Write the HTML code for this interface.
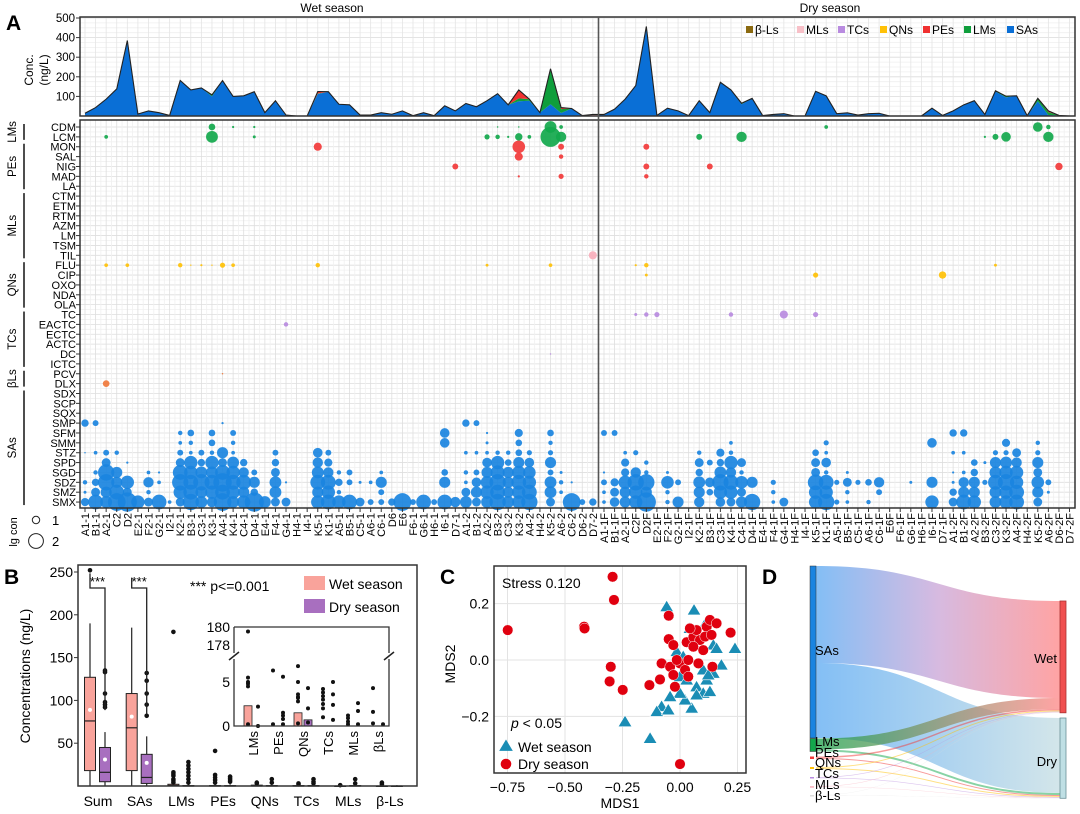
<!DOCTYPE html>
<html><head><meta charset="utf-8">
<style>
html,body{margin:0;padding:0;background:#fff;}
svg{display:block;font-family:"Liberation Sans",Arial,sans-serif;}
</style></head>
<body>
<svg id="fig" width="1080" height="814" viewBox="0 0 1080 814" xmlns="http://www.w3.org/2000/svg">
<defs>
<linearGradient id="gWet" x1="0" x2="1" y1="0" y2="0"><stop offset="0" stop-color="#5aa9f2"/><stop offset="0.5" stop-color="#c9a3d6"/><stop offset="1" stop-color="#ff8585"/></linearGradient>
<linearGradient id="gDry" x1="0" x2="1" y1="0" y2="0"><stop offset="0" stop-color="#5aa9f2"/><stop offset="1" stop-color="#c4dde3"/></linearGradient>
<linearGradient id="gLmW" x1="0" x2="1"><stop offset="0" stop-color="#1aa04a"/><stop offset="1" stop-color="#ff8585"/></linearGradient>
</defs>
</svg>
<script>
// ---------- DATA ----------
const wetSites=["A1-1","B1-1","A2-1","C2","D2","E2-1","F2-1","G2-1","I2-1","K2-1","B3-1","C3-1","K3-1","A4-1","K4-1","C4-1","D4-1","E4-1","F4-1","G4-1","H4-1","I4-1","K5-1","K1-1","A5-1","B5-1","C5-1","A6-1","C6-1","D6","E6","F6-1","G6-1","H6-1","I6-1","D7-1","A1-2","B1-2","A2-2","B3-2","C3-2","K3-2","A4-2","H4-2","K5-2","A6-2","C6-2","D6-2","D7-2"];
const drySites=["A1-1F","B1-1F","A2-1F","C2F","D2F","E2-1F","F2-1F","G2-1F","I2-1F","K2-1F","B3-1F","C3-1F","K4-1F","C4-1F","D4-1F","E4-1F","F4-1F","G4-1F","H4-1F","I4-1F","K5-1F","K1-1F","A5-1F","B5-1F","C5-1F","A6-1F","C6-1F","E6F","F6-1F","G6-1F","H6-1F","I6-1F","D7-1F","A1-2F","B1-2F","A2-2F","B3-2F","C3-2F","K3-2F","A4-2F","H4-2F","K5-2F","A6-2F","D6-2F","D7-2F"];
const compounds=["CDM","LCM","MON","SAL","NIG","MAD","LA","CTM","ETM","RTM","AZM","LM","TSM","TIL","FLU","CIP","OXO","NDA","OLA","TC","EACTC","ECTC","ACTC","DC","ICTC","PCV","DLX","SDX","SCP","SQX","SMP","SFM","SMM","STZ","SPD","SGD","SDZ","SMZ","SMX"];
const groupNames=["LMs","PEs","MLs","QNs","TCs","βLs","SAs"];
const groupStart=[0,2,7,14,19,25,27];
const groupEnd=[1,6,13,18,24,26,38];
// area series (ng/L), wet 0-48 then dry 49-93
const areaSAs=[14,43,86,138,385,10,26,17,3,181,133,143,100,181,100,103,124,17,78,5,0,0,112,124,60,57,5,5,17,9,26,2,17,2,52,26,64,47,78,114,57,75,78,17,60,15,38,2,0,
 8,35,86,155,457,3,40,26,2,78,17,172,133,60,90,2,8,12,0,0,126,103,12,16,5,12,14,0,0,0,0,40,3,26,57,78,8,125,95,103,2,75,5,3,0];
const areaLMs=[0,0,0,0,0,0,0,0,0,0,0,0,8,0,0,0,0,0,0,0,0,0,3,0,0,0,0,0,0,0,0,0,0,0,0,0,0,0,0,0,0,15,8,0,175,20,0,0,0,
 0,0,0,0,0,0,0,0,0,0,0,0,0,5,0,0,0,0,0,0,0,0,0,0,0,0,0,0,0,0,0,0,0,0,0,0,0,4,6,0,0,15,15,0,0];
const areaPEs=[0,0,0,0,0,0,0,0,0,0,0,0,0,0,0,0,0,0,0,0,0,0,10,0,0,0,0,0,0,0,0,0,0,0,0,0,0,0,0,0,0,43,0,0,6,8,0,0,0,
 0,0,0,0,0,0,0,0,0,0,0,0,0,0,0,0,0,0,0,0,0,0,0,0,0,0,0,0,0,0,0,0,0,0,0,0,0,0,0,0,0,0,6,0,0];
const areaMLs=[0,0,0,0,0,0,0,0,0,0,0,0,0,0,0,0,0,0,0,0,0,0,0,0,0,0,0,0,0,0,0,0,0,0,0,0,0,0,0,0,0,0,0,0,0,0,0,0,8,
 0,0,0,0,0,0,0,0,0,0,0,0,0,0,0,0,0,0,0,0,0,0,0,0,0,0,0,0,0,0,0,0,0,0,0,0,0,0,0,0,0,0,0,0,0];
const yTicksA=[100,200,300,400,500];
// bubbles: [compound, column, lg con]
const bubbles=[
["CDM",12,0.9],["CDM",14,0.3],["CDM",16,0.3],["CDM",39,0.2],["CDM",41,0.2],["CDM",44,1.6],["CDM",45,0.5],["CDM",70,0.5],["CDM",90,1.3],["CDM",91,0.6],
["LCM",2,0.5],["LCM",12,1.6],["LCM",16,0.4],["LCM",38,0.7],["LCM",39,0.6],["LCM",40,0.3],["LCM",41,1.0],["LCM",42,0.5],["LCM",44,2.7],["LCM",45,1.4],["LCM",58,0.8],["LCM",62,1.4],["LCM",85,0.3],["LCM",86,0.8],["LCM",87,1.3],["LCM",91,1.4],
["MON",22,1.1],["MON",41,1.7],["MON",45,0.8],["MON",53,0.8],["SAL",41,1.1],["SAL",45,0.6],
["NIG",35,0.8],["NIG",53,0.8],["NIG",59,0.8],["NIG",92,1.0],["MAD",41,0.3],["MAD",45,0.7],["MAD",53,0.6],
["TIL",48,1.1],
["FLU",2,0.5],["FLU",4,0.5],["FLU",9,0.6],["FLU",10,0.2],["FLU",11,0.3],["FLU",12,0.2],["FLU",13,0.7],["FLU",14,0.5],["FLU",22,0.6],["FLU",38,0.4],["FLU",44,0.5],["FLU",52,0.3],["FLU",53,0.6],["FLU",86,0.4],
["CIP",53,0.4],["CIP",69,0.7],["CIP",81,1.0],
["TC",52,0.4],["TC",53,0.6],["TC",54,0.7],["TC",61,0.6],["TC",66,1.1],["TC",69,0.7],["EACTC",19,0.6],["DC",44,0.2],
["PCV",13,0.2],["DLX",2,0.9],
["SMP",0,1.0],["SMP",1,0.8],["SMP",13,0.3],["SMP",36,1.0],["SMP",37,0.8],
["SFM",9,0.6],["SFM",10,0.9],["SFM",12,0.9],["SFM",14,0.8],["SFM",34,1.3],["SFM",38,0.3],["SFM",41,1.1],["SFM",44,0.9],["SFM",49,0.8],["SFM",50,0.8],["SFM",82,1.0],["SFM",83,1.0],
["SMM",9,0.5],["SMM",10,0.6],["SMM",12,0.9],["SMM",14,0.6],["SMM",34,1.3],["SMM",38,0.4],["SMM",41,0.9],["SMM",44,0.6],["SMM",61,0.5],["SMM",70,0.7],["SMM",80,1.3],["SMM",87,1.1],["SMM",90,0.6],
["STZ",0,0.2],["STZ",1,0.5],["STZ",2,0.8],["STZ",3,0.6],["STZ",9,0.8],["STZ",10,0.5],["STZ",11,0.8],["STZ",12,0.6],["STZ",13,1.5],["STZ",14,0.5],["STZ",18,0.8],["STZ",22,1.3],["STZ",23,0.8],["STZ",36,0.5],["STZ",37,0.5],["STZ",38,0.5],["STZ",39,0.6],["STZ",40,0.6],["STZ",41,0.9],["STZ",42,0.7],["STZ",44,0.7],
["STZ",51,0.5],["STZ",52,0.7],["STZ",58,0.6],["STZ",60,1.1],["STZ",61,0.6],["STZ",69,0.9],["STZ",70,0.5],["STZ",82,0.5],["STZ",83,0.5],["STZ",86,0.7],["STZ",87,0.7],["STZ",88,1.2],["STZ",90,0.7],
["SPD",2,1.2],["SPD",4,0.3],["SPD",9,1.2],["SPD",10,1.8],["SPD",11,1.0],["SPD",12,1.8],["SPD",13,1.2],["SPD",14,1.6],["SPD",15,1.0],["SPD",18,1.0],["SPD",22,1.4],["SPD",23,1.1],["SPD",38,1.3],["SPD",39,1.8],["SPD",40,0.9],["SPD",41,1.5],["SPD",42,1.3],["SPD",44,1.5],
["SPD",51,1.1],["SPD",53,0.6],["SPD",58,1.2],["SPD",59,0.8],["SPD",60,1.0],["SPD",61,1.8],["SPD",62,1.2],["SPD",69,1.2],["SPD",70,1.3],["SPD",84,0.9],["SPD",85,0.4],["SPD",86,1.5],["SPD",87,1.6],["SPD",88,1.4],["SPD",90,1.5],
["SGD",1,0.6],["SGD",2,2.2],["SGD",3,1.5],["SGD",6,0.5],["SGD",7,0.3],["SGD",9,2.0],["SGD",10,1.8],["SGD",11,1.6],["SGD",12,1.6],["SGD",13,2.0],["SGD",14,1.8],["SGD",15,1.4],["SGD",16,0.8],["SGD",18,1.2],["SGD",22,1.6],["SGD",23,1.4],["SGD",24,0.6],["SGD",25,0.8],["SGD",28,0.5],["SGD",34,0.9],["SGD",36,0.6],["SGD",37,0.8],["SGD",38,1.5],["SGD",39,1.9],["SGD",40,1.5],["SGD",41,1.8],["SGD",42,1.7],["SGD",44,0.8],["SGD",45,0.4],
["SGD",49,0.3],["SGD",51,1.1],["SGD",52,1.4],["SGD",53,0.6],["SGD",55,0.4],["SGD",58,1.0],["SGD",60,1.6],["SGD",61,1.4],["SGD",62,0.6],["SGD",69,1.2],["SGD",70,0.6],["SGD",72,0.4],["SGD",82,0.3],["SGD",83,0.5],["SGD",84,1.0],["SGD",86,1.6],["SGD",87,1.8],["SGD",88,1.8],["SGD",90,1.2],
["SDZ",0,0.6],["SDZ",1,1.0],["SDZ",2,2.2],["SDZ",3,1.5],["SDZ",4,1.8],["SDZ",6,1.4],["SDZ",7,0.5],["SDZ",9,2.2],["SDZ",10,2.0],["SDZ",11,2.2],["SDZ",12,2.0],["SDZ",13,2.5],["SDZ",14,2.0],["SDZ",15,2.0],["SDZ",16,1.5],["SDZ",18,1.6],["SDZ",19,0.3],["SDZ",22,2.0],["SDZ",23,2.0],["SDZ",24,1.0],["SDZ",25,0.8],["SDZ",26,0.4],["SDZ",27,0.5],["SDZ",28,1.5],["SDZ",34,1.5],["SDZ",36,0.5],["SDZ",37,1.3],["SDZ",38,1.7],["SDZ",39,2.2],["SDZ",40,1.5],["SDZ",41,2.0],["SDZ",42,1.8],["SDZ",44,1.6],["SDZ",45,0.6],["SDZ",46,0.3],
["SDZ",49,0.8],["SDZ",50,1.1],["SDZ",51,1.8],["SDZ",52,2.2],["SDZ",53,2.2],["SDZ",55,1.7],["SDZ",56,0.8],["SDZ",58,1.6],["SDZ",59,1.3],["SDZ",60,2.2],["SDZ",61,2.0],["SDZ",62,1.7],["SDZ",63,1.5],["SDZ",65,0.7],["SDZ",69,2.1],["SDZ",70,2.0],["SDZ",71,0.7],["SDZ",72,1.2],["SDZ",73,0.7],["SDZ",74,0.9],["SDZ",75,1.4],["SDZ",78,0.4],["SDZ",80,1.5],["SDZ",82,0.4],["SDZ",83,1.4],["SDZ",84,1.5],["SDZ",85,0.7],["SDZ",86,2.0],["SDZ",87,2.2],["SDZ",88,1.8],["SDZ",90,1.7],["SDZ",91,0.8],
["SMZ",0,0.4],["SMZ",1,1.2],["SMZ",2,1.5],["SMZ",3,2.0],["SMZ",4,1.2],["SMZ",6,0.6],["SMZ",9,1.8],["SMZ",10,2.0],["SMZ",11,1.6],["SMZ",12,1.8],["SMZ",13,2.0],["SMZ",14,1.8],["SMZ",15,1.5],["SMZ",16,1.0],["SMZ",18,1.6],["SMZ",22,1.5],["SMZ",23,1.8],["SMZ",24,0.6],["SMZ",28,0.8],["SMZ",36,1.2],["SMZ",37,1.5],["SMZ",38,1.8],["SMZ",39,2.0],["SMZ",40,1.5],["SMZ",41,1.8],["SMZ",42,2.0],["SMZ",44,1.6],["SMZ",45,0.5],
["SMZ",49,0.5],["SMZ",50,1.2],["SMZ",51,1.5],["SMZ",52,1.8],["SMZ",53,1.5],["SMZ",55,0.6],["SMZ",58,1.5],["SMZ",59,0.9],["SMZ",60,1.8],["SMZ",61,1.8],["SMZ",62,1.2],["SMZ",65,0.6],["SMZ",69,1.8],["SMZ",70,1.8],["SMZ",72,0.6],["SMZ",75,0.8],["SMZ",82,1.0],["SMZ",83,1.5],["SMZ",84,1.5],["SMZ",86,1.6],["SMZ",87,1.8],["SMZ",88,2.0],["SMZ",90,1.5],["SMZ",91,0.4],
["SMX",0,1.1],["SMX",1,2.0],["SMX",2,1.6],["SMX",3,2.4],["SMX",4,2.6],["SMX",5,1.8],["SMX",6,1.2],["SMX",7,2.0],["SMX",8,0.5],["SMX",9,1.2],["SMX",10,2.2],["SMX",11,1.6],["SMX",12,1.4],["SMX",13,2.4],["SMX",14,1.6],["SMX",15,1.8],["SMX",16,2.6],["SMX",17,1.6],["SMX",18,1.2],["SMX",19,1.2],["SMX",22,1.8],["SMX",23,2.0],["SMX",24,1.8],["SMX",25,2.0],["SMX",26,1.2],["SMX",27,0.8],["SMX",28,0.8],["SMX",29,1.0],["SMX",30,2.4],["SMX",31,0.8],["SMX",32,2.0],["SMX",33,0.8],["SMX",34,2.0],["SMX",35,1.4],["SMX",36,1.6],["SMX",37,1.2],["SMX",38,1.6],["SMX",39,2.2],["SMX",40,1.6],["SMX",41,1.8],["SMX",42,2.2],["SMX",44,1.2],["SMX",46,2.4],["SMX",47,0.8],["SMX",48,1.0],
["SMX",49,0.5],["SMX",50,1.3],["SMX",51,1.5],["SMX",52,1.8],["SMX",53,2.6],["SMX",55,0.6],["SMX",56,1.5],["SMX",58,1.4],["SMX",60,1.3],["SMX",61,1.2],["SMX",62,1.5],["SMX",63,2.2],["SMX",65,0.5],["SMX",66,1.2],["SMX",69,1.8],["SMX",70,2.2],["SMX",71,0.7],["SMX",72,0.5],["SMX",74,0.6],["SMX",80,1.8],["SMX",82,1.2],["SMX",83,2.0],["SMX",84,1.8],["SMX",86,1.6],["SMX",87,1.8],["SMX",88,2.0],["SMX",90,1.2]
];
// Panel B box stats [min,q1,median,q3,max,mean]
const boxCats=["Sum","SAs","LMs","PEs","QNs","TCs","MLs","β-Ls"];
const wetStats=[[0,18,76,127,190,89],[0,18,68,108,185,81],[0,0,0.5,2,4,2],[0,0,0,0.5,2,1],[0,0,0,1,3,1],[0,0,0,0.5,2,1],[0,0,0,0,1,0.3],[0,0,0,0,1,0.3]];
const dryStats=[[0,5,16,45,63,31],[0,3,10,37,58,27],[0,0,0,0.5,2,1],[0,0,0,0.5,2,1],[0,0,0,0.5,2,0.5],[0,0,0,0.5,2,1],[0,0,0,0.5,2,0.5],[0,0,0,0,1,0.2]];
const wetOut=[[252],[],[180,16,14,12,8,6,4],[41,13,10,7,4],[4,3],[3,2],[1],[4,2]];
const dryOut=[[92,95,98,108,133,135],[82,95,108,123,132],[28,24,20,16,12,8,4],[11,9,7,5],[8,4],[8,5,3],[8,3],[]];
const yTicksB=[50,100,150,200,250];
// inset
const insetCats=["LMs","PEs","QNs","TCs","MLs","βLs"];
const insetWetMean=[2.3,0,1.5,0,0,0];
const insetDryMean=[0,0,0.7,0,0,0];
const insetWetPts=[[179.5,5.5,5,4.8,4.5,0.2],[6.3,0.2],[6.8,5,3.6,3.3,3.2,2.8,0.3],[4.2,3.8,3.4,3,2.5,2,1],[1.2,0.9,0.5,0.2],[4.3,1.6,0.3]];
const insetDryPts=[[2.2,0],[5.6,1.5,1.2,0.8,0.2],[4.3,2,0.4],[5,3.6,2.4,0.7],[2.6,1.7,0.2],[0.2]];
// Panel C NMDS
const wetX=[-0.058,0.061,0.116,0.043,0.145,0.239,0.180,0.145,0.116,0.072,0.101,0.130,0.051,0.022,0,-0.043,-0.080,-0.101,-0.051,-0.239,-0.130,0.072,0.159,-0.014,0.014,0,0.029,0.101,0.123];
const wetY=[0.189,0.177,0.136,0.112,0.053,0.041,-0.018,-0.047,-0.071,-0.095,-0.118,-0.112,-0.171,-0.142,-0.118,-0.130,-0.165,-0.183,-0.177,-0.219,-0.278,-0.124,0.041,0.030,0.012,-0.059,-0.071,-0.035,-0.053];
const dryX=[-0.749,-0.293,-0.287,-0.417,-0.415,-0.301,-0.306,-0.249,-0.133,-0.087,-0.049,-0.049,-0.029,0.0,-0.080,-0.043,-0.029,-0.022,0,0.022,0.029,0.036,0.058,0.072,0.087,0.101,0.116,0.130,0.109,0.080,0.141,0.159,0.137,0.220,0.036,-0.014,0.058,0.043];
const dryY=[0.106,0.295,0.213,0.118,0.112,-0.024,-0.076,-0.106,-0.089,-0.069,0.157,0.074,0.053,-0.369,-0.012,-0.024,-0.053,-0.095,-0.012,-0.035,0.063,0.0,0.081,0.106,0.071,0.035,0.118,0.142,0.083,-0.012,-0.024,0.130,0.089,0.097,-0.059,0.0,0.047,0.112];
const xTicksC=[-0.75,-0.5,-0.25,0,0.25];
const yTicksC=[-0.2,0,0.2];
// Panel D sankey
const sankeySrc=["SAs","LMs","PEs","QNs","TCs","MLs","β-Ls"];
const sankeyWet=[97,11,1.5,1,0.6,0.4,0.3];
const sankeyDry=[75,2,1,1,0.6,0.4,0.3];

// ---------- HELPERS ----------
const NS='http://www.w3.org/2000/svg';
const svg=document.getElementById('fig');
function mk(tag,attrs,parent){const e=document.createElementNS(NS,tag);for(const k in attrs)e.setAttribute(k,attrs[k]);(parent||svg).appendChild(e);return e;}
function txt(s,attrs,name){const e=mk('text',attrs);e.textContent=s;


return e;}
const groupColor={"LMs":"#12a84c","PEs":"#f23a3a","MLs":"#f8aebb","QNs":"#ffc107","TCs":"#b98be0","βLs":"#f07a3c","SAs":"#1a84e0"};
function rowGroup(k){for(let g=0;g<groupNames.length;g++){if(k>=groupStart[g]&&k<=groupEnd[g])return groupNames[g];}return "SAs";}
function colX(c){return c<49?85+c*10.58:604+(c-49)*10.58;}
function rowY(k){return 127+k*9.87;}
const nCols=wetSites.length+drySites.length;

// ---------- PANEL A : AREA ----------
function yA(v){return 116-v*0.196;}
txt('A',{x:6,y:30,'font-size':21,'font-weight':'bold'},'panel-a-label');
txt('Wet season',{x:332,y:12,'font-size':12,'text-anchor':'middle'},'wet-season-title');
txt('Dry season',{x:830,y:12,'font-size':12,'text-anchor':'middle'},'dry-season-title');
// grid
for(let v=25;v<=500;v+=25){const l=mk('line',{x1:80,x2:1075,y1:yA(v),y2:yA(v),stroke:v%100==0?'#dcdcdc':'#efefef','stroke-width':0.8});

}
for(let c=0;c<nCols;c++){const l=mk('line',{x1:colX(c),x2:colX(c),y1:17,y2:116,stroke:'#e4e4e4','stroke-width':0.8});

}
// stacked areas
const layers=[["SAs",areaSAs,"#0a6fd6"],["LMs",areaLMs,"#0f9e3c"],["PEs",areaPEs,"#f03030"],["MLs",areaMLs,"#f8b8c0"]];
let base=new Array(nCols).fill(0);
const tops=[];
layers.forEach(([nm,arr,col])=>{
 const top=base.map((b,i)=>b+arr[i]);
 let d='M'+colX(0)+','+yA(base[0]);
 for(let i=0;i<nCols;i++)d+=' L'+colX(i)+','+yA(top[i]);
 for(let i=nCols-1;i>=0;i--)d+=' L'+colX(i)+','+yA(base[i]);
 const p=mk('path',{d:d+'Z',fill:col,stroke:'none'});
 
 
 base=top;
});
{let d='';for(let i=0;i<nCols;i++)d+=(i?' L':'M')+colX(i)+','+yA(base[i]);
const p=mk('path',{d:d,fill:'none',stroke:'#222','stroke-width':1.1});

}
{const r=mk('rect',{x:80,y:17,width:995,height:99,fill:'none',stroke:'#333','stroke-width':1.5});

}
yTicksA.forEach(v=>{txt(String(v),{x:75,y:yA(v)+4,'font-size':11.5,'text-anchor':'end'},'area-y-tick-label');
const t=mk('line',{x1:76,x2:80,y1:yA(v),y2:yA(v),stroke:'#333'});

});
txt('Conc.',{x:0,y:0,'font-size':12,'text-anchor':'middle',transform:'translate(33,70) rotate(-90)'},'area-y-title');
txt('(ng/L)',{x:0,y:0,'font-size':12,'text-anchor':'middle',transform:'translate(48,70) rotate(-90)'},'area-y-unit');
// legend
const legA=[["β-Ls","#8b6a10",746],["MLs","#f8c0c8",797],["TCs","#b98be0",838],["QNs","#ffc107",880],["PEs","#f03030",923],["LMs","#0f9e3c",964],["SAs","#0a6fd6",1007]];
legA.forEach(([n,c,x])=>{const r=mk('rect',{x:x,y:26,width:7,height:7,fill:c});


txt(n,{x:x+9,y:34,'font-size':12},'legend-entry-'+n.toLowerCase());});

// ---------- PANEL A : BUBBLES ----------
for(let k=0;k<compounds.length;k++){for(const off of [0,4.93]){const y=rowY(k)+off;if(y>508)continue;const l=mk('line',{x1:80,x2:1075,y1:y,y2:y,stroke:off?'#f0f0f0':'#dedede','stroke-width':0.8});

}}
for(let c=0;c<nCols;c++){for(const off of [0,5.29]){const x=colX(c)+off;if(x>1075)continue;const l=mk('line',{x1:x,x2:x,y1:120,y2:508,stroke:off?'#f0f0f0':'#dedede','stroke-width':0.8});

}}
bubbles.forEach(([cmp,col,v])=>{const k=compounds.indexOf(cmp);const g=rowGroup(k);
const c=mk('circle',{cx:colX(col),cy:rowY(k),r:3.7*v,fill:groupColor[g],'fill-opacity':0.92});

});
{const r=mk('rect',{x:80,y:120,width:995,height:388,fill:'none',stroke:'#333','stroke-width':1.5});

}
{const l=mk('line',{x1:598.5,x2:598.5,y1:17,y2:508,stroke:'#555','stroke-width':1.6});

}
compounds.forEach((n,k)=>{txt(n,{x:76,y:rowY(k)+4,'font-size':11,'text-anchor':'end',transform:`translate(0,0)`},'row-label-'+n.toLowerCase());
const t=mk('line',{x1:76,x2:80,y1:rowY(k),y2:rowY(k),stroke:'#333'});

});
groupNames.forEach((g,i)=>{const y1=rowY(groupStart[i])-3,y2=rowY(groupEnd[i])+3;
const l=mk('line',{x1:24,x2:24,y1:y1,y2:y2,stroke:'#222','stroke-width':1.6});


txt(g,{x:0,y:0,'font-size':11.5,'text-anchor':'middle',transform:`translate(16,${(y1+y2)/2}) rotate(-90)`},'group-label-'+g.toLowerCase());});
const allSites=wetSites.concat(drySites);
allSites.forEach((s,c)=>{const x=colX(c);
const t=mk('line',{x1:x,x2:x,y1:508,y2:512,stroke:'#333'});


txt(s,{x:0,y:0,'font-size':11,'text-anchor':'end',transform:`translate(${x+4},513) rotate(-90)`},'site-label');});
// size legend
txt('lg con',{x:0,y:0,'font-size':11,'text-anchor':'middle',transform:'translate(17,532) rotate(-90)'},'size-legend-title');
[[1,520],[2,541]].forEach(([v,y])=>{const c=mk('circle',{cx:36,cy:y,r:3.7*v,fill:'none',stroke:'#222','stroke-width':1});


txt(String(v),{x:52,y:y+5,'font-size':13},'size-legend-label');});

// ---------- PANEL B ----------
function yB(v){return 786-v*0.856;}
txt('B',{x:4,y:584,'font-size':21,'font-weight':'bold'},'panel-b-label');
const bx0=78,bx1=417;
function catX(i){return 98+i*41.7;}
boxCats.forEach((n,i)=>{
 [[wetStats[i],wetOut[i],-8,'#f9a39b','#f7b0a8'],[dryStats[i],dryOut[i],7,'#a86fbf','#b57fcb']].forEach(([s,outs,off,fill])=>{
  const cx=catX(i)+off,w=11;
  const wl=mk('line',{x1:cx,x2:cx,y1:yB(s[0]),y2:yB(s[4]),stroke:'#222','stroke-width':1.2});
  
  
  const b=mk('rect',{x:cx-w/2,y:yB(s[3]),width:w,height:Math.max(0.5,yB(s[1])-yB(s[3])),fill:fill,stroke:'#222','stroke-width':1});
  
  
  const m=mk('line',{x1:cx-w/2,x2:cx+w/2,y1:yB(s[2]),y2:yB(s[2]),stroke:'#222','stroke-width':1.2});
  
  
  if(s[3]>10){const mc=mk('circle',{cx:cx,cy:yB(s[5]),r:2,fill:'#fff'});
  
  }
  outs.forEach(v=>{const o=mk('circle',{cx:cx,cy:yB(v),r:2.3,fill:'#111'});
  
  });
 });
 txt(n,{x:catX(i),y:806,'font-size':14,'text-anchor':'middle'},'x-label-'+n.toLowerCase());
});
[0,1].forEach(i=>{const a=catX(i)-8,b=catX(i)+7;
const p=mk('path',{d:`M${a},${yB(wetStats[i][4])-50} V${yB(250)+16} H${b} V${yB(dryStats[i][4])-22}`,fill:'none',stroke:'#222','stroke-width':1.3});


txt('***',{x:(a+b)/2,y:yB(250)+14,'font-size':13,'text-anchor':'middle'},'significance-stars');});
{const r=mk('rect',{x:bx0,y:565,width:bx1-bx0,height:221,fill:'none',stroke:'#333','stroke-width':1.5});

}
yTicksB.forEach(v=>{txt(String(v),{x:73,y:yB(v)+5,'font-size':14,'text-anchor':'end'},'b-y-tick-label');
const t=mk('line',{x1:74,x2:78,y1:yB(v),y2:yB(v),stroke:'#333'});

});
txt('Concentrations (ng/L)',{x:0,y:0,'font-size':14,'text-anchor':'middle',transform:'translate(30,676) rotate(-90)'},'b-y-title');
txt('*** p<=0.001',{x:190,y:591,'font-size':14},'significance-note');
{const r=mk('rect',{x:304,y:576,width:21,height:14,fill:'#f9a39b'});

}
txt('Wet season',{x:329,y:589,'font-size':14},'legend-wet-season');
{const r=mk('rect',{x:304,y:599,width:21,height:14,fill:'#a86fbf'});

}
txt('Dry season',{x:329,y:612,'font-size':14},'legend-dry-season');
// inset
function yI(v){return v>100?645-(v-178)*9:726-v*8.8;}
function insX(i){return 253+i*25;}
insetCats.forEach((n,i)=>{
 [[insetWetMean[i],insetWetPts[i],-5,'#f9a39b'],[insetDryMean[i],insetDryPts[i],5,'#a86fbf']].forEach(([m,pts,off,fill])=>{
  const cx=insX(i)+off;
  if(m>0){const b=mk('rect',{x:cx-4,y:yI(m),width:8,height:726-yI(m),fill:fill,stroke:'#222','stroke-width':0.8});
  
  }
  pts.forEach(v=>{const c=mk('circle',{cx:cx,cy:yI(v),r:2,fill:'#111'});
  
  });
 });
 txt(n,{x:0,y:0,'font-size':13,'text-anchor':'end',transform:`translate(${insX(i)+5},731) rotate(-90)`},'inset-x-label');
});
{const p=mk('path',{d:'M234,627 H389 V653 M389,659 V726 H234 V659 M234,653 V627',fill:'none',stroke:'#333','stroke-width':1.3});

}
[[234],[389]].forEach(([x])=>{const b=mk('path',{d:`M${x-5},660 L${x+5},652`,stroke:'#222','stroke-width':1.5});

});
[[180,'180'],[178,'178'],[5,'5'],[0,'0']].forEach(([v,s])=>{txt(s,{x:230,y:yI(v)+5,'font-size':14,'text-anchor':'end'},'inset-y-tick-label');});

// ---------- PANEL C ----------
function xC(v){return 680+v*230;}
function yC(v){return 660-v*282;}
txt('C',{x:440,y:584,'font-size':21,'font-weight':'bold'},'panel-c-label');
xTicksC.forEach(v=>{const l=mk('line',{x1:xC(v),x2:xC(v),y1:566,y2:773,stroke:'#e3e3e3','stroke-width':1});


txt(v.toFixed(2).replace('-','−'),{x:xC(v),y:792,'font-size':14,'text-anchor':'middle'},'c-x-tick-label');});
yTicksC.forEach(v=>{const l=mk('line',{x1:494,x2:746,y1:yC(v),y2:yC(v),stroke:'#e3e3e3','stroke-width':1});


txt(v.toFixed(1).replace('-','−'),{x:489,y:yC(v)+5,'font-size':14,'text-anchor':'end'},'c-y-tick-label');});
function tri(x,y,s){return `M${x},${y-s} L${x+s*1.05},${y+s*0.75} L${x-s*1.05},${y+s*0.75}Z`;}
wetX.forEach((v,i)=>{const p=mk('path',{d:tri(xC(v),yC(wetY[i]),6.5),fill:'#1a8db5',stroke:'#fff','stroke-width':0.6});

});
dryX.forEach((v,i)=>{const c=mk('circle',{cx:xC(v),cy:yC(dryY[i]),r:5.3,fill:'#e0000f',stroke:'#fff','stroke-width':0.5});

});
{const r=mk('rect',{x:494,y:566,width:252,height:207,fill:'none',stroke:'#333','stroke-width':1.5});

}
txt('Stress 0.120',{x:502,y:588,'font-size':14},'stress-label');
{const t=txt('',{x:511,y:728,'font-size':14},'p-value-label');t.innerHTML='<tspan font-style="italic">p</tspan> &lt; 0.05';}
{const p=mk('path',{d:tri(506,746,6.5),fill:'#1a8db5'});

}
txt('Wet season',{x:518,y:752,'font-size':14},'c-legend-wet');
{const c=mk('circle',{cx:506,cy:764,r:5.3,fill:'#e0000f'});

}
txt('Dry season',{x:518,y:769,'font-size':14},'c-legend-dry');
txt('MDS1',{x:620,y:808,'font-size':14,'text-anchor':'middle'},'c-x-title');
txt('MDS2',{x:0,y:0,'font-size':14,'text-anchor':'middle',transform:'translate(455,664) rotate(-90)'},'c-y-title');

// ---------- PANEL D ----------
txt('D',{x:762,y:584,'font-size':21,'font-weight':'bold'},'panel-d-label');
const srcCols=["#1a84e0","#12a84c","#f23a3a","#ffc107","#b98be0","#f8aebb","#ddd"];
const flowW={"SAs":'url(#gWet)'};
let ly=566;const srcPos=[];
sankeySrc.forEach((n,i)=>{const h=sankeyWet[i]+sankeyDry[i];srcPos.push([ly,h]);ly+=h+(i==0?0.5:(i==1?4:8));if(i==1)ly+=1;});
let wy=601,dy=718;
sankeySrc.forEach((n,i)=>{
 const [sy,h]=srcPos[i];const x0=816,x1=1060,xm=(x0+x1)/2;
 const hw=sankeyWet[i],hd=sankeyDry[i];
 const pw=mk('path',{d:`M${x0},${sy} C${xm},${sy} ${xm},${wy} ${x1},${wy} L${x1},${wy+hw} C${xm},${wy+hw} ${xm},${sy+hw} ${x0},${sy+hw}Z`,fill:i==0?'url(#gWet)':(i==1?'url(#gLmW)':srcCols[i]),'fill-opacity':i<2?0.75:0.5});
 
 
 wy+=hw;
 const s2=sy+hw;
 const pd=mk('path',{d:`M${x0},${s2} C${xm},${s2} ${xm},${dy} ${x1},${dy} L${x1},${dy+hd} C${xm},${dy+hd} ${xm},${s2+hd} ${x0},${s2+hd}Z`,fill:i==0?'url(#gDry)':srcCols[i],'fill-opacity':i==0?0.75:0.5});
 
 
 dy+=hd;
});
sankeySrc.forEach((n,i)=>{const [sy,h]=srcPos[i];
 const r=mk('rect',{x:810,y:sy,width:i<2?6:4,height:Math.max(h,1.5),fill:srcCols[i],stroke:i<2?'#333':'none','stroke-width':0.5});
 
 
 const ty=i==0?sy+h/2-3:sy+h/2+4;
 txt(n,{x:815,y:i==0?655:[0,746,757,767,778,789,800][i],'font-size':13},'node-label-'+n.toLowerCase());
});
{const r=mk('rect',{x:1060,y:601,width:6,height:wy-601,fill:'#f05050',stroke:'#a33','stroke-width':0.8});

}
{const r=mk('rect',{x:1060,y:718,width:6,height:dy-718,fill:'#bfdfe4',stroke:'#6a8f96','stroke-width':0.8});

}
txt('Wet',{x:1057,y:663,'font-size':13,'text-anchor':'end'},'node-label-wet');
txt('Dry',{x:1057,y:766,'font-size':13,'text-anchor':'end'},'node-label-dry');
</script>
</body></html>
